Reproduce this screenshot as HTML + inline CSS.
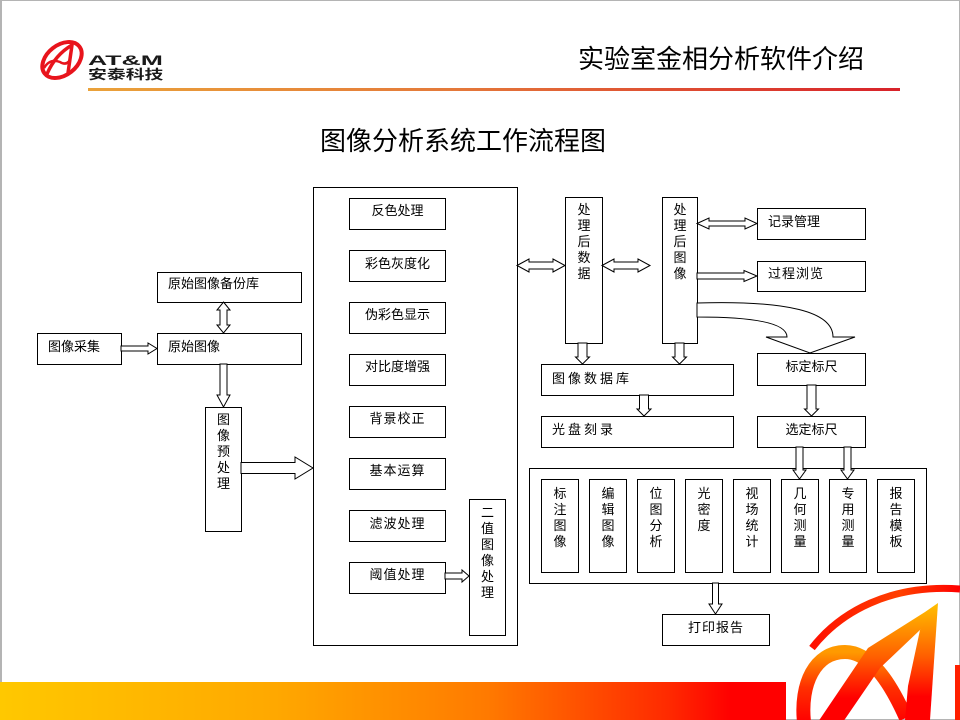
<!DOCTYPE html>
<html><head><meta charset="utf-8">
<style>
html,body{margin:0;padding:0;}
body{width:960px;height:720px;position:relative;overflow:hidden;background:#fff;font-family:"Liberation Sans","Noto Sans CJK SC",sans-serif;}
.frame{position:absolute;left:0;top:0;width:960px;height:720px;box-sizing:border-box;border:1px solid #b4b4b4;border-left-width:2px;}
.b{position:absolute;box-sizing:border-box;border:1px solid #000;background:#fff;font-size:13px;line-height:15px;color:#000;padding-top:3px;font-family:"Noto Sans CJK SC","WenQuanYi Zen Hei",sans-serif;white-space:nowrap;}
.c{text-align:center;}
.l{padding-left:10px;}
.v{text-align:center;line-height:16px;padding-top:3px;}
.t{position:absolute;font-family:"Noto Sans CJK SC","WenQuanYi Zen Hei",sans-serif;color:#000;white-space:nowrap;}
</style></head><body>
<div class="frame"></div>

<!-- top-left logo -->
<svg style="position:absolute;left:0;top:0" width="200" height="100">
 <ellipse cx="62" cy="60" rx="22" ry="15" transform="rotate(-38 62 60)" fill="none" stroke="#e8141c" stroke-width="4"/>
 <path d="M47,74 Q55,55 72,45 L68,73" fill="none" stroke="#e8141c" stroke-width="3.5" stroke-linejoin="round"/>
 <path d="M44,68 Q50,58 60,62 Q66,66 70,60" fill="none" stroke="#e8141c" stroke-width="2.5"/>
 <defs>
  <linearGradient id="hl" x1="0" x2="1" y1="0" y2="0">
   <stop offset="0" stop-color="#eaa23a"/><stop offset="0.5" stop-color="#e26a32"/><stop offset="1" stop-color="#d8222a"/>
  </linearGradient>
 </defs>
</svg>
<div class="t" style="left:88px;top:53px;font-family:'Liberation Sans',sans-serif;font-weight:bold;font-size:14px;line-height:14px;color:#1a1a1a;transform:scaleX(1.9);transform-origin:0 0;">AT&amp;M</div>
<div class="t" style="left:88px;top:66px;font-size:13px;line-height:15px;color:#1a1a1a;font-weight:bold;transform:scaleX(1.45);transform-origin:0 0;">安泰科技</div>

<div style="position:absolute;left:88px;top:88px;width:812px;height:3px;background:linear-gradient(to right,#eaa23a,#e4793a 45%,#d8222a);"></div>

<div class="t" style="left:578px;top:43px;font-size:26px;line-height:30px;">实验室金相分析软件介绍</div>
<div class="t" style="left:320px;top:125px;font-size:26px;line-height:30px;">图像分析系统工作流程图</div>

<!-- left column -->
<div class="b l" style="left:37px;top:333px;width:85px;height:32px;padding-top:4px;">图像采集</div>
<div class="b l" style="left:157px;top:272px;width:145px;height:31px;padding-top:2px;">原始图像备份库</div>
<div class="b l" style="left:157px;top:333px;width:145px;height:32px;padding-top:4px;">原始图像</div>
<div class="b v" style="left:205px;top:407px;width:37px;height:125px;">图<br>像<br>预<br>处<br>理</div>

<!-- big box -->
<div class="b" style="left:313px;top:187px;width:205px;height:459px;"></div>
<div class="b c" style="left:349px;top:198px;width:97px;height:32px;">反色处理</div>
<div class="b c" style="left:349px;top:250px;width:97px;height:32px;padding-top:4px;">彩色灰度化</div>
<div class="b c" style="left:349px;top:302px;width:97px;height:32px;">伪彩色显示</div>
<div class="b c" style="left:349px;top:354px;width:97px;height:32px;">对比度增强</div>
<div class="b c" style="left:349px;top:406px;width:97px;height:32px;letter-spacing:1px;">背景校正</div>
<div class="b c" style="left:349px;top:458px;width:97px;height:32px;letter-spacing:1px;">基本运算</div>
<div class="b c" style="left:349px;top:510px;width:97px;height:32px;padding-top:4px;letter-spacing:1px;">滤波处理</div>
<div class="b c" style="left:349px;top:562px;width:97px;height:32px;letter-spacing:1px;">阈值处理</div>
<div class="b v" style="left:469px;top:499px;width:37px;height:137px;padding-top:4px;">二<br>值<br>图<br>像<br>处<br>理</div>

<!-- middle right -->
<div class="b v" style="left:565px;top:197px;width:38px;height:147px;">处<br>理<br>后<br>数<br>据</div>
<div class="b v" style="left:662px;top:197px;width:36px;height:147px;">处<br>理<br>后<br>图<br>像</div>
<div class="b l" style="left:757px;top:208px;width:109px;height:32px;padding-top:4px;">记录管理</div>
<div class="b l" style="left:757px;top:261px;width:109px;height:31px;padding-top:3px;letter-spacing:1px;">过程浏览</div>
<div class="b c" style="left:757px;top:353px;width:109px;height:33px;padding-top:4px;">标定标尺</div>
<div class="b c" style="left:757px;top:416px;width:109px;height:32px;padding-top:4px;">选定标尺</div>
<div class="b l" style="left:541px;top:364px;width:193px;height:32px;padding-top:5px;letter-spacing:3px;">图像数据库</div>
<div class="b l" style="left:541px;top:416px;width:193px;height:32px;padding-top:4px;letter-spacing:3px;">光盘刻录</div>

<!-- bottom group -->
<div class="b" style="left:529px;top:468px;width:398px;height:116px;"></div>
<div class="b v" style="left:541px;top:479px;width:38px;height:94px;padding-top:5px;">标<br>注<br>图<br>像</div>
<div class="b v" style="left:589px;top:479px;width:38px;height:94px;padding-top:5px;">编<br>辑<br>图<br>像</div>
<div class="b v" style="left:637px;top:479px;width:38px;height:94px;padding-top:5px;">位<br>图<br>分<br>析</div>
<div class="b v" style="left:685px;top:479px;width:38px;height:94px;padding-top:5px;">光<br>密<br>度</div>
<div class="b v" style="left:733px;top:479px;width:38px;height:94px;padding-top:5px;">视<br>场<br>统<br>计</div>
<div class="b v" style="left:781px;top:479px;width:38px;height:94px;padding-top:5px;">几<br>何<br>测<br>量</div>
<div class="b v" style="left:829px;top:479px;width:38px;height:94px;padding-top:5px;">专<br>用<br>测<br>量</div>
<div class="b v" style="left:877px;top:479px;width:38px;height:94px;padding-top:5px;">报<br>告<br>模<br>板</div>
<div class="b c" style="left:662px;top:614px;width:108px;height:32px;padding-top:4px;letter-spacing:1px;">打印报告</div>

<!-- arrows -->
<svg style="position:absolute;left:0;top:0" width="960" height="720">
 <g fill="#fff" stroke="#000" stroke-width="1" stroke-linejoin="miter">
  <polygon points="121,346 148,346 148,343 157,348.5 148,354 148,351 121,351"/>
  <polygon points="223.5,302 230,310 227,310 227,325 230,325 223.5,333 217,325 220,325 220,310 217,310"/>
  <polygon points="220,364 227,364 227,395 230,395 223.5,407 217,395 220,395"/>
  <polygon points="241,462.5 295,462.5 295,457 313,468 295,479 295,473.5 241,473.5"/>
  <polygon points="445,573 462,573 462,570 469,576 462,582 462,579 445,579"/>
  <polygon points="517,265.5 529,259 529,262 553,262 553,259 565,265.5 553,272 553,269 529,269 529,272"/>
  <polygon points="602,265.5 614,259 614,262 638,262 638,259 650,265.5 638,272 638,269 614,269 614,272"/>
  <polygon points="697,223.5 709,218 709,221 745,221 745,218 757,223.5 745,229 745,226 709,226 709,229"/>
  <polygon points="697,273 744,273 744,270.5 757,276 744,281.5 744,279 697,279"/>
  <polygon points="578,343 587,343 587,357 589.5,357 582.5,364 575.5,357 578,357"/>
  <polygon points="675,343 684,343 684,357 686.5,357 679.5,364 672.5,357 675,357"/>
  <polygon points="639.5,395 648.5,395 648.5,409 651,409 644,416 637,409 639.5,409"/>
  <polygon points="807,385 816,385 816,409 818.5,409 811.5,416 804.5,409 807,409"/>
  <polygon points="796,447 803,447 803,470 806,470 799.5,479 793,470 796,470"/>
  <polygon points="844,447 851,447 851,470 854,470 847.5,479 841,470 844,470"/>
  <polygon points="712.5,583 718.5,583 718.5,604 722,604 715.5,614 709,604 712.5,604"/>
  <path d="M697,303 Q833,299 833,337 L855,337 L810,353 L766,337 L787,337 Q787,317 697,317 Z"/>
 </g>
</svg>

<!-- bottom bar & logo -->
<div style="position:absolute;left:0;top:682px;width:786px;height:38px;background:linear-gradient(to right,#ffc800 0%,#ffa800 35%,#ff7a00 62%,#ff2a00 85%,#ff0000 93%,#ff0000 100%);"></div>
<svg style="position:absolute;left:780px;top:570px" width="180" height="150" viewBox="780 570 180 150">
 <defs>
  <linearGradient id="ga" x1="0" y1="0" x2="0" y2="1">
   <stop offset="0" stop-color="#ffc000"/><stop offset="0.45" stop-color="#ff6000"/><stop offset="0.8" stop-color="#ff0000"/>
  </linearGradient>
  <linearGradient id="gb" x1="0" y1="0" x2="1" y2="0">
   <stop offset="0" stop-color="#ff1000"/><stop offset="0.6" stop-color="#ff4000"/><stop offset="1" stop-color="#ff0000"/>
  </linearGradient>
  <linearGradient id="gc" x1="0" y1="0" x2="0" y2="1">
   <stop offset="0" stop-color="#ff9a00"/><stop offset="0.5" stop-color="#ff3000"/><stop offset="1" stop-color="#ff0000"/>
  </linearGradient>
 </defs>
 <path d="M812,648 C840,612 890,584 960,589" fill="none" stroke="url(#gb)" stroke-width="7"/>
 <rect x="955" y="665" width="6" height="56" fill="#ff2000"/>
 <path d="M804,722 C800,684 815,652 845,652 C870,652 890,682 906,718" fill="none" stroke="url(#gc)" stroke-width="14"/>
 <polygon points="938,603 925,612 868,648 818,722 843,722 880,668 920,630 932,617" fill="url(#ga)"/>
 <polygon points="938,603 930,720 905,720 908,686 920,630" fill="url(#ga)"/>
</svg>
</body></html>
